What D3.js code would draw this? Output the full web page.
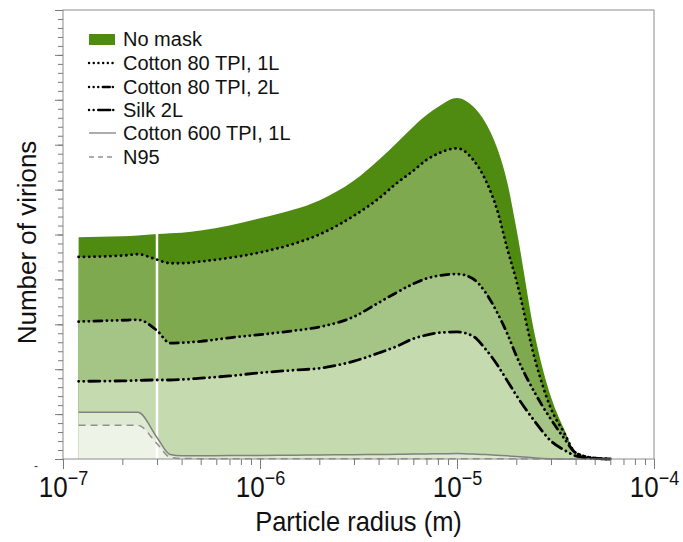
<!DOCTYPE html>
<html>
<head>
<meta charset="utf-8">
<script src="https://cdn.jsdelivr.net/npm/d3@7"></script>
<style>
html,body{margin:0;padding:0;background:#fff;}
svg{display:block;font-family:"Liberation Sans",Arial,Helvetica,sans-serif;}
</style>
</head>
<body>
<svg id="chart" width="683" height="542"></svg>
<script>
// ---- data (particle radius in m, number of virions in arbitrary units) ----
const radius = [1.2e-7, 2e-7, 2.4e-7, 3e-7, 3.5e-7, 4e-7, 5e-7, 7e-7, 1e-6, 1.5e-6, 2e-6, 3e-6, 4e-6, 5e-6, 6e-6, 7e-6, 8e-6, 1e-5, 1.2e-5, 1.4e-5, 1.6e-5, 1.8e-5, 2e-5, 2.5e-5, 3e-5, 3.5e-5, 4e-5, 5e-5, 6e-5];
const noMask    = [24.7, 24.8, 24.9, 25.05, 25.15, 25.2, 25.45, 26.0, 26.8, 27.8, 28.8, 31.0, 33.3, 35.3, 37.0, 38.3, 39.2, 40.2, 39.3, 37.4, 34.6, 30.8, 25.7, 13.5, 6.9, 3.3, 0.8, 0.1, 0];
const cotton1L  = [22.5, 22.65, 22.8, 22.2, 21.8, 21.8, 22.0, 22.4, 23.0, 24.0, 25.0, 27.1, 29.0, 30.8, 32.1, 33.3, 34.0, 34.6, 33.4, 31.0, 27.7, 23.4, 19.9, 10.9, 5.6, 2.9, 0.7, 0.1, 0];
const cotton2L  = [15.3, 15.45, 15.5, 14.3, 12.9, 12.95, 13.1, 13.5, 13.85, 14.3, 14.7, 15.85, 17.4, 18.6, 19.5, 20.1, 20.4, 20.6, 20.1, 18.5, 16.3, 13.95, 11.5, 7.25, 4.4, 2.3, 0.7, 0.1, 0];
const silk2L    = [8.65, 8.7, 8.75, 8.8, 8.8, 8.85, 9.0, 9.25, 9.6, 9.9, 10.1, 10.9, 11.8, 12.6, 13.4, 13.8, 14.05, 14.15, 13.7, 12.2, 10.5, 8.7, 7.1, 4.1, 2.0, 1.0, 0.35, 0.05, 0];
const cotton600 = [5.2, 5.2, 5.2, 2.4, 0.5, 0.35, 0.35, 0.38, 0.4, 0.42, 0.45, 0.48, 0.5, 0.52, 0.55, 0.57, 0.58, 0.6, 0.55, 0.5, 0.42, 0.35, 0.28, 0.12, 0.04, 0.01, 0, 0, 0];
const n95       = [3.75, 3.75, 3.75, 1.7, 0.2, 0.06, 0.04, 0.04, 0.04, 0.04, 0.04, 0.04, 0.04, 0.04, 0.04, 0.04, 0.04, 0.04, 0.04, 0.04, 0.03, 0.03, 0.02, 0.01, 0, 0, 0, 0, 0];
const filterRadius = 3e-7;
const xMajorTicks = [1e-7, 1e-6, 1e-5, 1e-4];
const xTickExponents = ["\u22127", "\u22126", "\u22125", "\u22124"];
const seriesNames = ["No mask", "Cotton 80 TPI, 1L", "Cotton 80 TPI, 2L", "Silk 2L", "Cotton 600 TPI, 1L", "N95"];
const xTitle = "Particle radius (m)";
const yTitle = "Number of virions";

// ---- layout ----
const svg = d3.select("#chart");
const L = 63, R = 654, T = 10, B = 459;
const x = d3.scaleLog().domain([1e-7, 1e-4]).range([L, R]);
const y = d3.scaleLinear().domain([0, 50]).range([B, T]);

const series = [
  {name: seriesNames[0], values: noMask,    fill: "#4f8b10"},
  {name: seriesNames[1], values: cotton1L,  fill: "#7ea94e", stroke: "#000", width: 2.8, dash: "0.1 5.2", cap: "round", legendDash: "0.1 4.6"},
  {name: seriesNames[2], values: cotton2L,  fill: "#a5c586", stroke: "#000", width: 2.8, dash: "0.1 5 0.1 5 0.1 5 8 5", cap: "round", legendDash: "0.1 4.5 0.1 4.5 0.1 4.5 7 3"},
  {name: seriesNames[3], values: silk2L,    fill: "#c5dbaf", stroke: "#000", width: 2.8, dash: "0.1 5 0.1 5 11 5", cap: "round", legendDash: "0.1 4.5 0.1 4.5 12 3"},
  {name: seriesNames[4], values: cotton600, fill: "#dee9d2", stroke: "#808080", width: 1.5, dash: null, cap: "butt"},
  {name: seriesNames[5], values: n95,       fill: "#edf3e6", stroke: "#909090", width: 1.5, dash: "7 5", cap: "butt", legendDash: "5 4"}
];

const area = d3.area()
  .x((d, i) => x(radius[i]))
  .y0(y(0))
  .y1(d => y(d))
  .curve(d3.curveMonotoneX);
const line = d3.line()
  .x((d, i) => x(radius[i]))
  .y(d => y(d))
  .curve(d3.curveMonotoneX);

const plot = svg.append("g");
series.forEach(s => {
  plot.append("path").attr("d", area(s.values)).attr("fill", s.fill).attr("stroke", "none");
});

// white filter-cutoff line
const iF = radius.indexOf(filterRadius);
plot.append("line")
  .attr("x1", x(filterRadius)).attr("x2", x(filterRadius))
  .attr("y1", y(0)).attr("y2", y(noMask[iF]) - 1)
  .attr("stroke", "#fff").attr("stroke-width", 2.5);

series.slice(1).reverse().forEach(s => {
  plot.append("path").attr("d", line(s.values))
    .attr("fill", "none").attr("stroke", s.stroke)
    .attr("stroke-width", s.width)
    .attr("stroke-dasharray", s.dash)
    .attr("stroke-linecap", s.cap)
    .attr("stroke-linejoin", "round");
});

// ---- frame ----
svg.append("rect").attr("x", L).attr("y", T).attr("width", R - L).attr("height", B - T)
  .attr("fill", "none").attr("stroke", "#8c8c8c").attr("stroke-width", 1);

// ---- x axis ----
const minorX = [];
for (let e = -7; e < -4; e++) for (let k = 2; k <= 9; k++) minorX.push(k * Math.pow(10, e));
const gxMinor = svg.append("g").attr("transform", `translate(0,${B})`)
  .call(d3.axisBottom(x).tickValues(minorX).tickSize(6).tickFormat(""));
const gxMajor = svg.append("g").attr("transform", `translate(0,${B})`)
  .call(d3.axisBottom(x).tickValues(xMajorTicks).tickSize(10).tickFormat(""));
[gxMinor, gxMajor].forEach(g => {
  g.select(".domain").remove();
  g.selectAll(".tick line").attr("stroke", "#7a7a7a");
});
gxMajor.selectAll(".tick").each(function(d, i) {
  const t = d3.select(this).append("text")
    .attr("y", 34).attr("fill", "#111").attr("text-anchor", "middle")
    .attr("font-size", 26).attr("transform", "scale(1,1.12)");
  t.append("tspan").text("10");
  t.append("tspan").attr("dy", -11).attr("font-size", 18).text(xTickExponents[i]);
});

// ---- y axis ----
const gyMinor = svg.append("g").attr("transform", `translate(${L},0)`)
  .call(d3.axisLeft(y).tickValues(d3.range(0, 51, 1)).tickSize(5).tickFormat(""));
const gyMajor = svg.append("g").attr("transform", `translate(${L},0)`)
  .call(d3.axisLeft(y).tickValues(d3.range(0, 51, 5)).tickSize(8).tickFormat(""));
[gyMinor, gyMajor].forEach(g => {
  g.select(".domain").remove();
  g.selectAll(".tick line").attr("stroke", "#7a7a7a");
});
svg.append("text").attr("x", 36).attr("y", 470).attr("font-size", 12).attr("fill", "#333")
  .attr("text-anchor", "middle").text("-");

// ---- titles ----
svg.append("text").attr("transform", `translate(${(L + R) / 2},531) scale(1,1.08)`).attr("text-anchor", "middle")
  .attr("font-size", 25.5).attr("fill", "#111").text(xTitle);
svg.append("text").attr("transform", `translate(36,${(T + B) / 2 + 8}) rotate(-90)`)
  .attr("text-anchor", "middle").attr("font-size", 26).attr("fill", "#111").text(yTitle);

// ---- legend ----
const lg = svg.append("g");
const rowY = [37, 61, 85, 108, 131, 155];
series.forEach((s, i) => {
  if (i === 0) {
    lg.append("rect").attr("x", 89).attr("y", rowY[i] - 3).attr("width", 26).attr("height", 11).attr("fill", s.fill);
  } else {
    lg.append("line").attr("x1", 89).attr("x2", 116).attr("y1", rowY[i] + 2).attr("y2", rowY[i] + 2)
      .attr("stroke", s.stroke).attr("stroke-width", i < 4 ? 2.4 : 1.3)
      .attr("stroke-dasharray", s.legendDash || null)
      .attr("stroke-linecap", s.cap);
  }
  lg.append("text").attr("x", 123).attr("y", rowY[i] + 9).attr("font-size", 20).attr("fill", "#111").text(s.name);
});
</script>
</body>
</html>
